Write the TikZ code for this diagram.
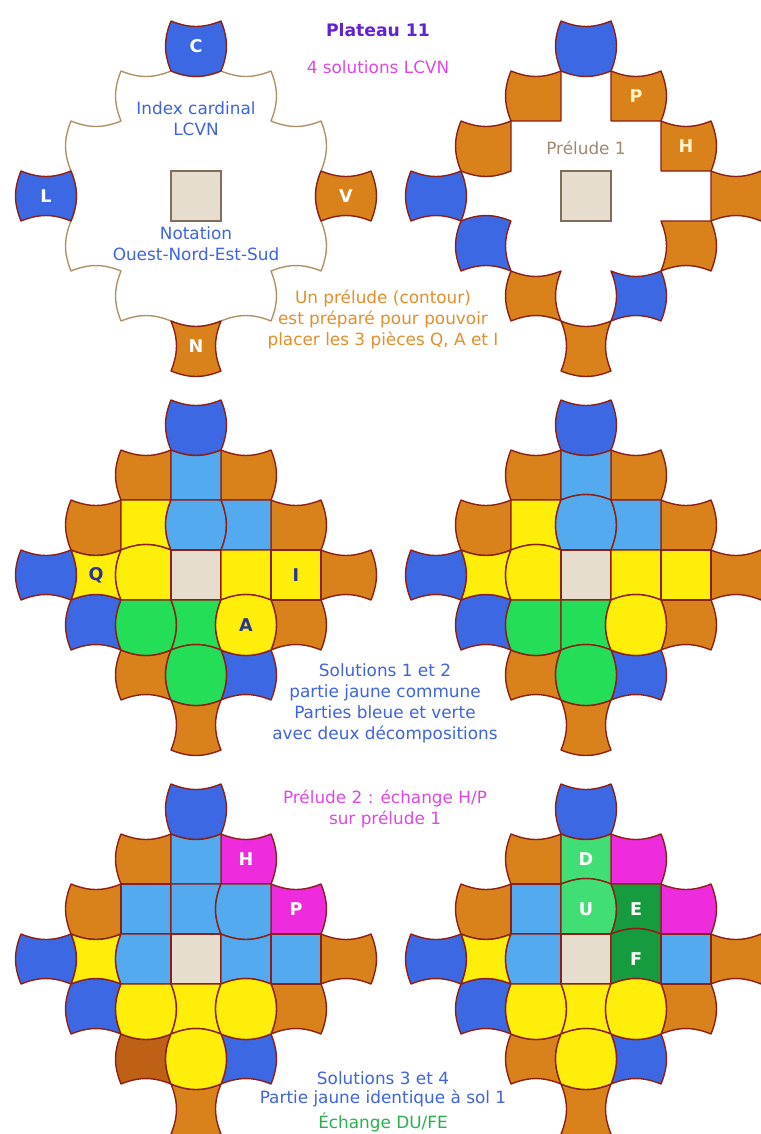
\documentclass[tikz,border=0pt]{standalone}
\usepackage{fontspec}
\setmainfont{DejaVu Sans}
\usetikzlibrary{positioning}
\definecolor{cblue}{RGB}{60,104,228}
\definecolor{clblue}{RGB}{84,170,238}
\definecolor{corange}{RGB}{217,129,26}
\definecolor{cdorange}{RGB}{190,96,22}
\definecolor{cyellow}{RGB}{255,238,10}
\definecolor{cgreen}{RGB}{36,222,88}
\definecolor{clgreen}{RGB}{64,222,116}
\definecolor{cdgreen}{RGB}{22,156,62}
\definecolor{cmagenta}{RGB}{238,44,222}
\definecolor{cbeige}{RGB}{231,221,206}
\definecolor{cline}{RGB}{140,32,22}
\definecolor{ctan}{RGB}{176,146,104}
\definecolor{cnavy}{RGB}{40,52,150}
\definecolor{ccream}{RGB}{255,242,196}
\definecolor{tpurple}{RGB}{98,34,210}
\definecolor{tpink}{RGB}{222,72,226}
\definecolor{tblue}{RGB}{62,100,222}
\definecolor{torange}{RGB}{226,142,44}
\definecolor{tbrown}{RGB}{160,136,112}
\definecolor{tgreen}{RGB}{40,178,78}
\newcommand{\tile}[8]{%
  \filldraw[tileline,fill=#3] (#1-.5,#2+.5) to[#4] (#1+.5,#2+.5) to[#5] (#1+.5,#2-.5)
    to[#6] (#1-.5,#2-.5) to[#7] (#1-.5,#2+.5) -- cycle;
  \node[lbl] (t#1#2) at (#1,#2) {#8};}
\newcommand{\rim}[5]{%
  \tile{0}{3}{cblue}{cv}{vx}{vx}{vx}{}
  \tile{-1}{2}{corange}{cv}{fl}{fl}{vx}{}
  \tile{1}{2}{#1}{cv}{vx}{fl}{fl}{#2}
  \tile{-2}{1}{corange}{cv}{fl}{vx}{vx}{}
  \tile{2}{1}{#3}{cv}{vx}{fl}{fl}{#4}
  \tile{-3}{0}{cblue}{cv}{vx}{cv}{vx}{}
  \tile{3}{0}{corange}{cv}{vx}{cv}{fl}{}
  \tile{-2}{-1}{cblue}{vx}{cv}{cv}{vx}{}
  \tile{2}{-1}{corange}{fl}{vx}{cv}{cv}{}
  \tile{-1}{-2}{#5}{cv}{cv}{cv}{vx}{}
  \tile{1}{-2}{cblue}{cv}{vx}{cv}{cv}{}
  \tile{0}{-3}{corange}{cv}{cv}{vx}{cv}{}}

\begin{document}
\begin{tikzpicture}[
tileline/.style={draw=cline,line width=0.8pt,line join=round},
vx/.style={bend left=22},cv/.style={bend right=22},fl/.style={},
lbl/.style={font=\bfseries\fontsize{10}{10}\selectfont,text=white,inner sep=0pt},
txt/.style={align=center,font=\fontsize{9.6}{12}\selectfont,inner sep=1pt},
centresq/.style={draw=tbrown!80!black,fill=cbeige,line width=0.6pt,minimum size=1cm,inner sep=0pt},
contour/.style={draw=ctan,line width=0.8pt,line join=round}]
\fill[white] (0,0) rectangle (15.2,-22.68);
\useasboundingbox (0,0) rectangle (15.2,-22.68);

\node[txt,font=\fontsize{9.8}{12}\selectfont\bfseries,text=tpurple] (title) at (7.56,-0.6) {Plateau 11};
\node[txt,text=tpink,below=4mm of title] (nsol) {4 solutions LCVN};

\begin{scope}[shift={(3.92,-3.92)},name prefix=b0-]
\draw[contour] (-1.5,2.5) to[cv] (-.5,2.5) to[cv] (.5,2.5) to[cv] (1.5,2.5) to[vx] (1.5,1.5)
  to[cv] (2.5,1.5) to[vx] (2.5,.5) to[cv] (2.5,-.5) to[vx] (2.5,-1.5) to[cv] (1.5,-1.5)
  to[vx] (1.5,-2.5) to[cv] (.5,-2.5) to[vx] (-.5,-2.5) to[cv] (-1.5,-2.5) to[vx] (-1.5,-1.5)
  to[cv] (-2.5,-1.5) to[vx] (-2.5,-.5) to[cv] (-2.5,.5) to[vx] (-2.5,1.5) to[cv] (-1.5,1.5)
  to[vx] (-1.5,2.5) -- cycle;
\tile{0}{3}{cblue}{cv}{vx}{vx}{vx}{C}
\tile{-3}{0}{cblue}{cv}{vx}{cv}{vx}{L}
\tile{3}{0}{corange}{cv}{vx}{cv}{vx}{V}
\tile{0}{-3}{corange}{cv}{cv}{vx}{cv}{N}
\node[centresq] (mid) at (0,0) {};
\node[txt,text=tblue] (index) at (0,1.54) {Index cardinal\\LCVN};
\node[txt,text=tblue] (notation) at (0,-0.96) {Notation\\Ouest-Nord-Est-Sud};
\end{scope}

\begin{scope}[shift={(11.72,-3.92)},name prefix=b1-]
\rim{corange}{\textcolor{ccream}{P}}{corange}{\textcolor{ccream}{H}}{corange}
\node[centresq] (mid) at (0,0) {};
\node[txt,text=tbrown] (prelude) at (0,0.96) {Prélude 1};
\end{scope}

\node[txt,text=torange] (prep) at (7.66,-6.39) {Un prélude (contour)\\est préparé pour pouvoir\\placer les 3 pièces Q, A et I};

\begin{scope}[shift={(3.92,-11.5)},name prefix=b2-]
\rim{corange}{}{corange}{}{corange}
\tile{0}{2}{clblue}{cv}{fl}{fl}{fl}{}
\tile{-1}{1}{cyellow}{fl}{cv}{cv}{fl}{}
\tile{0}{1}{clblue}{fl}{vx}{fl}{vx}{}
\tile{1}{1}{clblue}{fl}{fl}{fl}{cv}{}
\tile{-2}{0}{cyellow}{cv}{cv}{cv}{cv}{\textcolor{cnavy}{Q}}
\tile{-1}{0}{cyellow}{vx}{fl}{fl}{vx}{}
\tile{0}{0}{cbeige}{fl}{fl}{fl}{fl}{}
\tile{1}{0}{cyellow}{fl}{fl}{cv}{fl}{}
\tile{2}{0}{cyellow}{fl}{fl}{fl}{fl}{\textcolor{cnavy}{I}}
\tile{-1}{-1}{cgreen}{fl}{vx}{vx}{vx}{}
\tile{0}{-1}{cgreen}{fl}{cv}{cv}{cv}{}
\tile{1}{-1}{cyellow}{vx}{vx}{vx}{vx}{\textcolor{cnavy}{A}}
\tile{0}{-2}{cgreen}{vx}{vx}{vx}{vx}{}
\end{scope}

\begin{scope}[shift={(11.72,-11.5)},name prefix=b3-]
\rim{corange}{}{corange}{}{corange}
\tile{0}{2}{clblue}{cv}{fl}{cv}{fl}{}
\tile{-1}{1}{cyellow}{fl}{cv}{cv}{fl}{}
\tile{0}{1}{clblue}{vx}{vx}{fl}{vx}{}
\tile{1}{1}{clblue}{fl}{fl}{fl}{cv}{}
\tile{-2}{0}{cyellow}{cv}{cv}{cv}{cv}{}
\tile{-1}{0}{cyellow}{vx}{fl}{fl}{vx}{}
\tile{0}{0}{cbeige}{fl}{fl}{fl}{fl}{}
\tile{1}{0}{cyellow}{fl}{fl}{cv}{fl}{}
\tile{2}{0}{cyellow}{fl}{fl}{fl}{fl}{}
\tile{-1}{-1}{cgreen}{fl}{fl}{vx}{vx}{}
\tile{0}{-1}{cgreen}{fl}{cv}{cv}{fl}{}
\tile{1}{-1}{cyellow}{vx}{vx}{vx}{vx}{}
\tile{0}{-2}{cgreen}{vx}{vx}{vx}{vx}{}
\end{scope}

\node[txt,text=tblue] (sol12) at (7.7,-14.07) {Solutions 1 et 2\\partie jaune commune\\Parties bleue et verte\\avec deux décompositions};
\node[txt,text=tpink] (prel2) at (7.7,-16.18) {Prélude 2 : échange H/P\\sur prélude 1};

\begin{scope}[shift={(3.92,-19.18)},name prefix=b4-]
\rim{cmagenta}{H}{cmagenta}{P}{cdorange}
\tile{0}{2}{clblue}{cv}{fl}{fl}{fl}{}
\tile{-1}{1}{clblue}{fl}{fl}{fl}{fl}{}
\tile{0}{1}{clblue}{fl}{cv}{fl}{fl}{}
\tile{1}{1}{clblue}{fl}{fl}{vx}{vx}{}
\tile{-2}{0}{cyellow}{cv}{cv}{cv}{cv}{}
\tile{-1}{0}{clblue}{fl}{fl}{fl}{vx}{}
\tile{0}{0}{cbeige}{fl}{fl}{fl}{fl}{}
\tile{1}{0}{clblue}{cv}{fl}{cv}{fl}{}
\tile{2}{0}{clblue}{fl}{fl}{fl}{fl}{}
\tile{-1}{-1}{cyellow}{fl}{vx}{vx}{vx}{}
\tile{0}{-1}{cyellow}{fl}{cv}{cv}{cv}{}
\tile{1}{-1}{cyellow}{vx}{vx}{vx}{vx}{}
\tile{0}{-2}{cyellow}{vx}{vx}{vx}{vx}{}
\end{scope}

\begin{scope}[shift={(11.72,-19.18)},name prefix=b5-]
\rim{cmagenta}{}{cmagenta}{}{corange}
\tile{0}{2}{clgreen}{cv}{fl}{cv}{fl}{D}
\tile{-1}{1}{clblue}{fl}{fl}{fl}{fl}{}
\tile{0}{1}{clgreen}{vx}{vx}{fl}{fl}{U}
\tile{1}{1}{cdgreen}{fl}{fl}{cv}{cv}{E}
\tile{-2}{0}{cyellow}{cv}{cv}{cv}{cv}{}
\tile{-1}{0}{clblue}{fl}{fl}{fl}{vx}{}
\tile{0}{0}{cbeige}{fl}{fl}{fl}{fl}{}
\tile{1}{0}{cdgreen}{vx}{fl}{cv}{fl}{F}
\tile{2}{0}{clblue}{fl}{fl}{fl}{fl}{}
\tile{-1}{-1}{cyellow}{fl}{vx}{vx}{vx}{}
\tile{0}{-1}{cyellow}{fl}{cv}{cv}{cv}{}
\tile{1}{-1}{cyellow}{vx}{vx}{vx}{vx}{}
\tile{0}{-2}{cyellow}{vx}{vx}{vx}{vx}{}
\end{scope}

\node[txt,text=tblue,font=\fontsize{9.6}{11}\selectfont] (sol34) at (7.66,-21.78) {Solutions 3 et 4\\Partie jaune identique à sol 1};
\node[txt,text=tgreen] (swap) at (7.66,-22.44) {Échange DU/FE};
\end{tikzpicture}
\end{document}
